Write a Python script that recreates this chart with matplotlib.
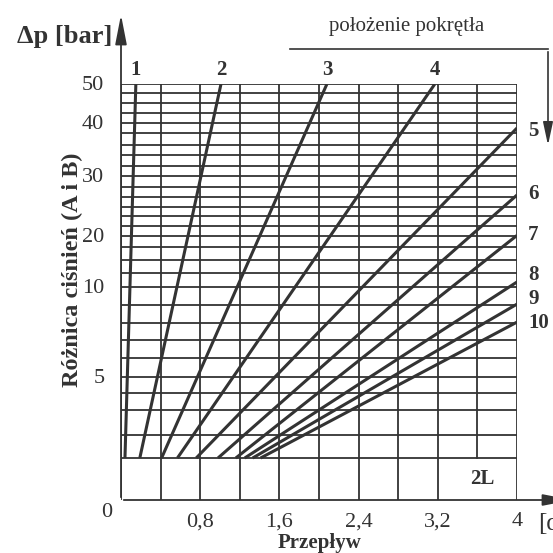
import numpy as np
import matplotlib
matplotlib.use("Agg")
import matplotlib.pyplot as plt
from matplotlib.scale import FuncScale
from matplotlib.patches import FancyArrowPatch
from matplotlib.lines import Line2D

# flow axis (grid every 0.4, labels every 0.8)
x_grid = np.arange(0, 4.01, 0.4)
x_ticks = [0.8, 1.6, 2.4, 3.2, 4.0]
x_labels = ["0,8", "1,6", "2,4", "3,2", "4"]

# pressure axis: gridline values and their drawn heights on the chart
y_grid = [0, 2, 3, 4, 4.5, 5, 6, 7, 8, 9, 10, 12.5, 15, 17.5, 20,
          21.67, 23.33, 25, 26.67, 28.33, 30, 32, 34, 36, 38, 40,
          42.5, 45, 47.5, 50]
y_pix = [500, 458, 435, 410, 393, 377, 358, 340, 323, 305, 287, 273, 260, 247, 236,
         226, 216, 207, 197, 187, 176, 166, 155, 145, 133, 123,
         113, 103, 93, 84]
y_ticks = [5, 10, 20, 30, 40, 50]

# knob positions: start (flow, dp) -> end (flow, dp)
positions = ["1", "2", "3", "4", "5", "6", "7", "8", "9", "10"]
flow_start = [0.04, 0.19, 0.41, 0.57, 0.76, 0.98, 1.16, 1.25, 1.33, 1.41]
flow_end = [0.15, 1.01, 2.08, 3.17, 4.0, 4.0, 4.0, 4.0, 4.0, 4.0]
dp_start = [2] * 10
dp_end = [50, 50, 50, 50, 39, 27, 20.1, 10.9, 9.05, 8.05]

band_top = 2

pos = (500 - np.array(y_pix, dtype=float)) / 416.0


def fwd(v):
    return np.interp(v, y_grid, pos)


def inv(p):
    return np.interp(p, pos, y_grid)


ink = "#333333"
serif = "Liberation Serif"
H = 553

fig = plt.figure(figsize=(5.53, 5.53), dpi=100)
ax = fig.add_axes([121 / 553, 53 / 553, 396 / 553, 416 / 553])
ax.set_yscale(FuncScale(ax, (fwd, inv)))
ax.set_xlim(0, 4)
ax.set_ylim(0, 50)

for s in ax.spines.values():
    s.set_visible(False)
ax.set_xticks([])
ax.set_yticks([])

# grid
for v in y_grid[1:]:
    ax.axhline(v, color=ink, lw=1.3, zorder=1)
lo = fwd(band_top)
for x in x_grid:
    if abs(x - 3.6) < 1e-6:
        ax.axvline(x, ymin=lo, ymax=1, color=ink, lw=1.3, zorder=1)
    else:
        ax.axvline(x, color=ink, lw=1.3, zorder=1)

# characteristic lines
for i in range(len(positions)):
    ax.plot([flow_start[i], flow_end[i]], [dp_start[i], dp_end[i]],
            color=ink, lw=2.2, solid_capstyle="butt", zorder=3)

# position numbers
side_offset = {"5": -2, "6": 1, "7": 0, "8": 5, "9": 4, "10": -1}
for i in range(len(positions)):
    if flow_end[i] < 4.0:
        ax.annotate(positions[i], (flow_end[i], 50), xytext=(0, 3),
                    textcoords="offset points", ha="center", va="bottom",
                    fontsize=15, fontweight="bold", family=serif, color=ink)
    else:
        ax.annotate(positions[i], (4.0, dp_end[i]),
                    xytext=(8, side_offset[positions[i]]),
                    textcoords="offset points", ha="left", va="center",
                    fontsize=15, fontweight="bold", family=serif, color=ink)

ax.text(3.65, 1.0, "2L", ha="center", va="center", fontsize=15,
        fontweight="bold", family=serif, color=ink)

# tick labels
for x, lab in zip(x_ticks, x_labels):
    ax.annotate(lab, (x, 0), xytext=(0, -9), textcoords="offset points",
                ha="center", va="top", fontsize=16, family=serif, color=ink)
ax.annotate("0", (0, 0), xytext=(-10, -2), textcoords="offset points",
            ha="center", va="top", fontsize=16, family=serif, color=ink)
for y in y_ticks:
    ax.annotate(str(y), (0, y), xytext=(-12, -1), textcoords="offset points",
                ha="right", va="center", fontsize=16, family=serif, color=ink)

# axes with arrows
fig.add_artist(FancyArrowPatch(
    (121, H - 500), (121, H - 12), transform=None,
    arrowstyle="-|>,head_length=18,head_width=3.5",
    color=ink, lw=1.3, mutation_scale=1))
fig.add_artist(FancyArrowPatch(
    (121, H - 500), (575, H - 500), transform=None,
    arrowstyle="-|>,head_length=18,head_width=3.5",
    color=ink, lw=1.3, mutation_scale=1))

fig.text(112 / 553, 1 - 36 / 553, "Δp [bar]", ha="right", va="center",
         fontsize=19, fontweight="bold", family=serif, color=ink)
fig.text(72 / 553, 1 - 270 / 553, "Różnica ciśnień (A i B)", rotation=90,
         ha="center", va="center", fontsize=17.5, fontweight="bold",
         family=serif, color=ink)
fig.text(320 / 553, 1 - 543 / 553, "Przepływ", ha="center", va="center",
         fontsize=15, fontweight="bold", family=serif, color=ink)
fig.text(538 / 553, 1 - 524 / 553, "[dm³/min]", ha="left", va="center",
         fontsize=18, family=serif, color=ink)

# knob position indicator
fig.text(407 / 553, 1 - 27 / 553, "położenie pokrętła", ha="center", va="center",
         fontsize=15, family=serif, color=ink)
fig.add_artist(Line2D([290 / 553, 548 / 553], [1 - 49 / 553, 1 - 49 / 553],
                      color=ink, lw=1.2))
fig.add_artist(FancyArrowPatch(
    (548, H - 49), (548, H - 148), transform=None,
    arrowstyle="-|>,head_length=14,head_width=3", color=ink, lw=1.2,
    mutation_scale=1))

fig.savefig("out.png", dpi=100, facecolor="white")
